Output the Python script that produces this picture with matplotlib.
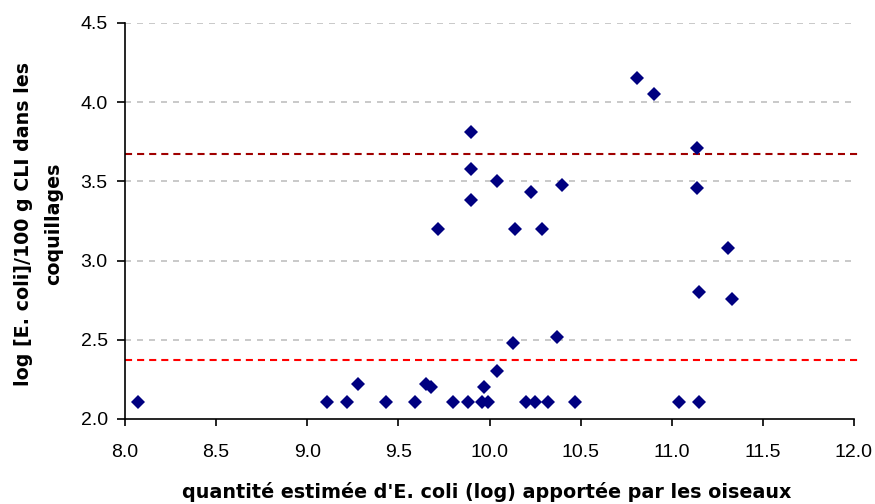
import matplotlib
matplotlib.use("Agg")
import matplotlib.pyplot as plt

plt.rcParams['font.family'] = ['Liberation Sans', 'DejaVu Sans']

# quantité estimée (log) et log [E. coli] mesuré
x_oiseaux = [8.07, 9.11, 9.22, 9.28, 9.43, 9.59, 9.65, 9.68, 9.80, 9.88,
             9.96, 9.97, 9.99, 10.04, 10.13, 10.20, 10.25, 10.32, 10.37, 10.47,
             9.90, 9.90, 10.04, 10.23, 10.40, 9.90, 9.72, 10.14, 10.29,
             10.81, 10.90, 11.14, 11.14, 11.31,
             11.15, 11.33, 11.04, 11.15]
y_coquillages = [2.11, 2.11, 2.11, 2.22, 2.11, 2.11, 2.22, 2.20, 2.11, 2.11,
                 2.11, 2.20, 2.11, 2.30, 2.48, 2.11, 2.11, 2.11, 2.52, 2.11,
                 3.81, 3.58, 3.50, 3.43, 3.48, 3.38, 3.20, 3.20, 3.20,
                 4.15, 4.05, 3.71, 3.46, 3.08,
                 2.80, 2.76, 2.11, 2.11]

# seuils
seuil_haut = 3.67
seuil_bas = 2.37

fig = plt.figure(figsize=(8.75, 5.04), dpi=100)
ax = fig.add_axes([0.1429, 0.1687, 0.8331, 0.7857])

for y in [2.5, 3.0, 3.5, 4.0, 4.5]:
    ax.plot([8, 12], [y, y], color='#c0c0c0', lw=1.2, dashes=(3.6, 3.6), zorder=1)

ax.plot([8, 12.04], [seuil_haut, seuil_haut], color='#a00000', lw=1.5,
        dashes=(3.4, 2.4), clip_on=False, zorder=2)
ax.plot([8, 12.04], [seuil_bas, seuil_bas], color='#ff0000', lw=1.5,
        dashes=(3.4, 2.4), clip_on=False, zorder=2)

ax.plot(x_oiseaux, y_coquillages, 'D', color='#000080', ms=6.8,
        markeredgewidth=0, zorder=3, clip_on=False)

ax.set_xlim(8, 12)
ax.set_ylim(2, 4.5)
ax.set_xticks([8.0, 8.5, 9.0, 9.5, 10.0, 10.5, 11.0, 11.5, 12.0])
ax.set_yticks([2.0, 2.5, 3.0, 3.5, 4.0, 4.5])
ax.xaxis.set_major_formatter(matplotlib.ticker.FormatStrFormatter('%.1f'))
ax.yaxis.set_major_formatter(matplotlib.ticker.FormatStrFormatter('%.1f'))

for s in ['top', 'right']:
    ax.spines[s].set_visible(False)
for s in ['left', 'bottom']:
    ax.spines[s].set_linewidth(1.2)
ax.tick_params(axis='x', direction='out', length=5, width=1.2, pad=13, labelsize=14)
ax.tick_params(axis='y', direction='out', length=5.5, width=1.2, pad=7, labelsize=14)

fig.text(0.5566, 0.024, "quantité estimée d'E. coli (log) apportée par les oiseaux",
         ha='center', va='center', fontsize=13.8, fontweight='bold',
         family=['DejaVu Sans'])
fig.text(0.044, 0.556, "log [E. coli]/100 g CLI dans les\ncoquillages",
         rotation=90, ha='center', va='center', fontsize=13.7, fontweight='bold',
         family=['DejaVu Sans'], linespacing=1.7)

fig.savefig('out.png', dpi=100)
